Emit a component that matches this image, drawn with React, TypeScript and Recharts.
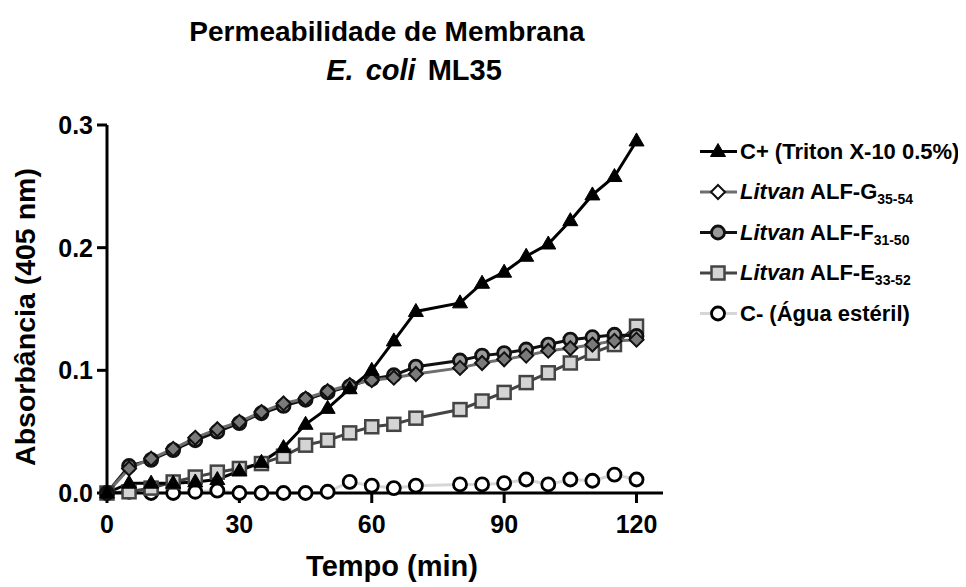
import { LineChart, Line, XAxis, YAxis, Label } from 'recharts'

// tempo (min) – 75 min was not measured
const tempo = [0, 5, 10, 15, 20, 25, 30, 35, 40, 45, 50, 55, 60, 65, 70, 80, 85, 90, 95, 100, 105, 110, 115, 120]

const cPos = [0, 0.008, 0.008, 0.008, 0.009, 0.011, 0.018, 0.025, 0.037, 0.056, 0.069, 0.085, 0.1, 0.124, 0.148, 0.155, 0.171, 0.18, 0.193, 0.203, 0.222, 0.243, 0.258, 0.287]
const alfG = [0, 0.02, 0.028, 0.036, 0.045, 0.052, 0.058, 0.066, 0.073, 0.077, 0.083, 0.088, 0.092, 0.094, 0.097, 0.102, 0.106, 0.109, 0.112, 0.116, 0.118, 0.121, 0.124, 0.125]
const alfF = [0, 0.022, 0.027, 0.035, 0.043, 0.05, 0.057, 0.065, 0.071, 0.076, 0.082, 0.087, 0.093, 0.096, 0.103, 0.108, 0.112, 0.114, 0.117, 0.121, 0.125, 0.127, 0.129, 0.128]
const alfE = [0, 0.001, 0.004, 0.009, 0.013, 0.017, 0.02, 0.024, 0.03, 0.039, 0.043, 0.049, 0.054, 0.056, 0.061, 0.068, 0.075, 0.082, 0.09, 0.098, 0.106, 0.114, 0.121, 0.136]
const cNeg = [0, 0.001, 0, 0, 0.001, 0.002, 0, 0, 0, 0, 0.001, 0.009, 0.006, 0.004, 0.006, 0.007, 0.007, 0.008, 0.011, 0.007, 0.011, 0.01, 0.015, 0.011]

const xTicks = [0, 30, 60, 90, 120]
const yTicks = [0, 0.1, 0.2, 0.3]

const data = tempo.map((t, i) => ({
  t,
  cPos: cPos[i],
  alfG: alfG[i],
  alfF: alfF[i],
  alfE: alfE[i],
  cNeg: cNeg[i],
}))

type Shape = 'triangle' | 'diamond' | 'circle' | 'square' | 'open'

const series = [
  { key: 'cPos', shape: 'triangle' as Shape, line: '#000', fill: '#000', stroke: '#000', label: 'C+ (Triton X-10 0.5%)' },
  { key: 'alfG', shape: 'diamond' as Shape, line: '#6e6e6e', fill: '#7a7a7a', stroke: '#111', label: 'Litvan ALF-G', sub: '35-54' },
  { key: 'alfF', shape: 'circle' as Shape, line: '#111', fill: '#9a9a9a', stroke: '#111', label: 'Litvan ALF-F', sub: '31-50' },
  { key: 'alfE', shape: 'square' as Shape, line: '#444', fill: '#d4d4d4', stroke: '#444', label: 'Litvan ALF-E', sub: '33-52' },
  { key: 'cNeg', shape: 'open' as Shape, line: '#d6d6d6', fill: '#fff', stroke: '#000', label: 'C- (Água estéril)' },
]

const FONT = '"Liberation Sans", Arial, sans-serif'

function Marker({ shape, cx, cy, fill, stroke }: { shape: Shape; cx: number; cy: number; fill: string; stroke: string }) {
  if (shape === 'triangle') {
    return <polygon points={`${cx},${cy - 8} ${cx - 7.5},${cy + 5} ${cx + 7.5},${cy + 5}`} fill={fill} stroke={stroke} strokeWidth={1} />
  }
  if (shape === 'diamond') {
    return <polygon points={`${cx},${cy - 7} ${cx + 7},${cy} ${cx},${cy + 7} ${cx - 7},${cy}`} fill={fill} stroke={stroke} strokeWidth={2} />
  }
  if (shape === 'square') {
    return <rect x={cx - 6.5} y={cy - 6.5} width={13} height={13} fill={fill} stroke={stroke} strokeWidth={2.5} />
  }
  return <circle cx={cx} cy={cy} r={6.5} fill={fill} stroke={stroke} strokeWidth={2.8} />
}

// draw order: C- at the bottom, C+ on top
const drawOrder = ['cNeg', 'alfE', 'alfF', 'alfG', 'cPos']

function LegendBox() {
  return (
    <svg width={950} height={579} style={{ position: 'absolute', left: 0, top: 0, pointerEvents: 'none' }}>
      {series.map((s, i) => {
        const base = 150.5 + i * 40.5
        const mid = base - 7
        return (
          <g key={s.key}>
            <line x1={692} y1={mid} x2={729} y2={mid} stroke={s.line} strokeWidth={3} />
            <Marker shape={s.shape} cx={710} cy={mid} fill={s.shape === 'diamond' ? '#fff' : s.fill} stroke={s.stroke} />
            <text x={732} y={base} fontFamily={FONT} fontWeight="bold" fontSize={22} fill="#000">
              {s.sub ? (
                <>
                  <tspan fontStyle="italic">Litvan</tspan>
                  <tspan>{' ' + s.label.replace('Litvan ', '')}</tspan>
                  <tspan fontSize={14} dy={5}>{s.sub}</tspan>
                </>
              ) : (
                s.label
              )}
            </text>
          </g>
        )
      })}
    </svg>
  )
}

export default function App() {
  return (
    <div style={{ position: 'relative', width: 950, height: 579, fontFamily: FONT }}>
      <div style={{ position: 'absolute', left: 79, top: 10, width: 600, textAlign: 'center', fontSize: 28, fontWeight: 'bold', lineHeight: '28px' }}>
        Permeabilidade de Membrana
      </div>
      <div style={{ position: 'absolute', left: 106, top: 47, width: 600, textAlign: 'center', fontSize: 29, fontWeight: 'bold', lineHeight: '30px', wordSpacing: 4 }}>
        <i>E. coli</i> ML35
      </div>
      <LineChart width={950} height={579} data={data} margin={{ top: 117, right: 295, bottom: 0, left: 9 }}>
        <XAxis
          dataKey="t"
          type="number"
          domain={[0, 126]}
          ticks={xTicks}
          tickSize={10}
          tickMargin={12}
          axisLine={{ stroke: '#000', strokeWidth: 3 }}
          tickLine={{ stroke: '#000', strokeWidth: 3 }}
          tick={{ fill: '#000', fontSize: 25, fontWeight: 'bold', fontFamily: FONT }}
          height={94}
        >
          <Label
            content={(p: any) => {
              const vb = p.viewBox
              return (
                <text x={vb.x + vb.width / 2 + 7} y={vb.y + 83} textAnchor="middle" fontSize={29} fontWeight="bold" fontFamily={FONT} fill="#000">
                  Tempo (min)
                </text>
              )
            }}
          />
        </XAxis>
        <YAxis
          type="number"
          domain={[0, 0.3]}
          ticks={yTicks}
          tickFormatter={(v: number) => v.toFixed(1)}
          tickSize={10}
          tickMargin={4}
          width={90}
          axisLine={{ stroke: '#000', strokeWidth: 3 }}
          tickLine={{ stroke: '#000', strokeWidth: 3 }}
          tick={{ fill: '#000', fontSize: 25, fontWeight: 'bold', fontFamily: FONT }}
        >
          <Label
            content={(p: any) => {
              const vb = p.viewBox
              const x = vb.x + 18
              const y = vb.y + vb.height / 2 + 8
              return (
                <text x={x} y={y} transform={`rotate(-90 ${x} ${y})`} textAnchor="middle" fontSize={28.5} fontWeight="bold" fontFamily={FONT} fill="#000">
                  Absorbância (405 nm)
                </text>
              )
            }}
          />
        </YAxis>
        {drawOrder.map((k) => {
          const s = series.find((x) => x.key === k)!
          return (
            <Line
              key={k}
              dataKey={k}
              type="linear"
              stroke={s.line}
              strokeWidth={3}
              isAnimationActive={false}
              activeDot={false}
              dot={(p: any) => <Marker key={`${k}-${p.index}`} shape={s.shape} cx={p.cx} cy={p.cy} fill={s.fill} stroke={s.stroke} />}
            />
          )
        })}
      </LineChart>
      <LegendBox />
    </div>
  )
}
